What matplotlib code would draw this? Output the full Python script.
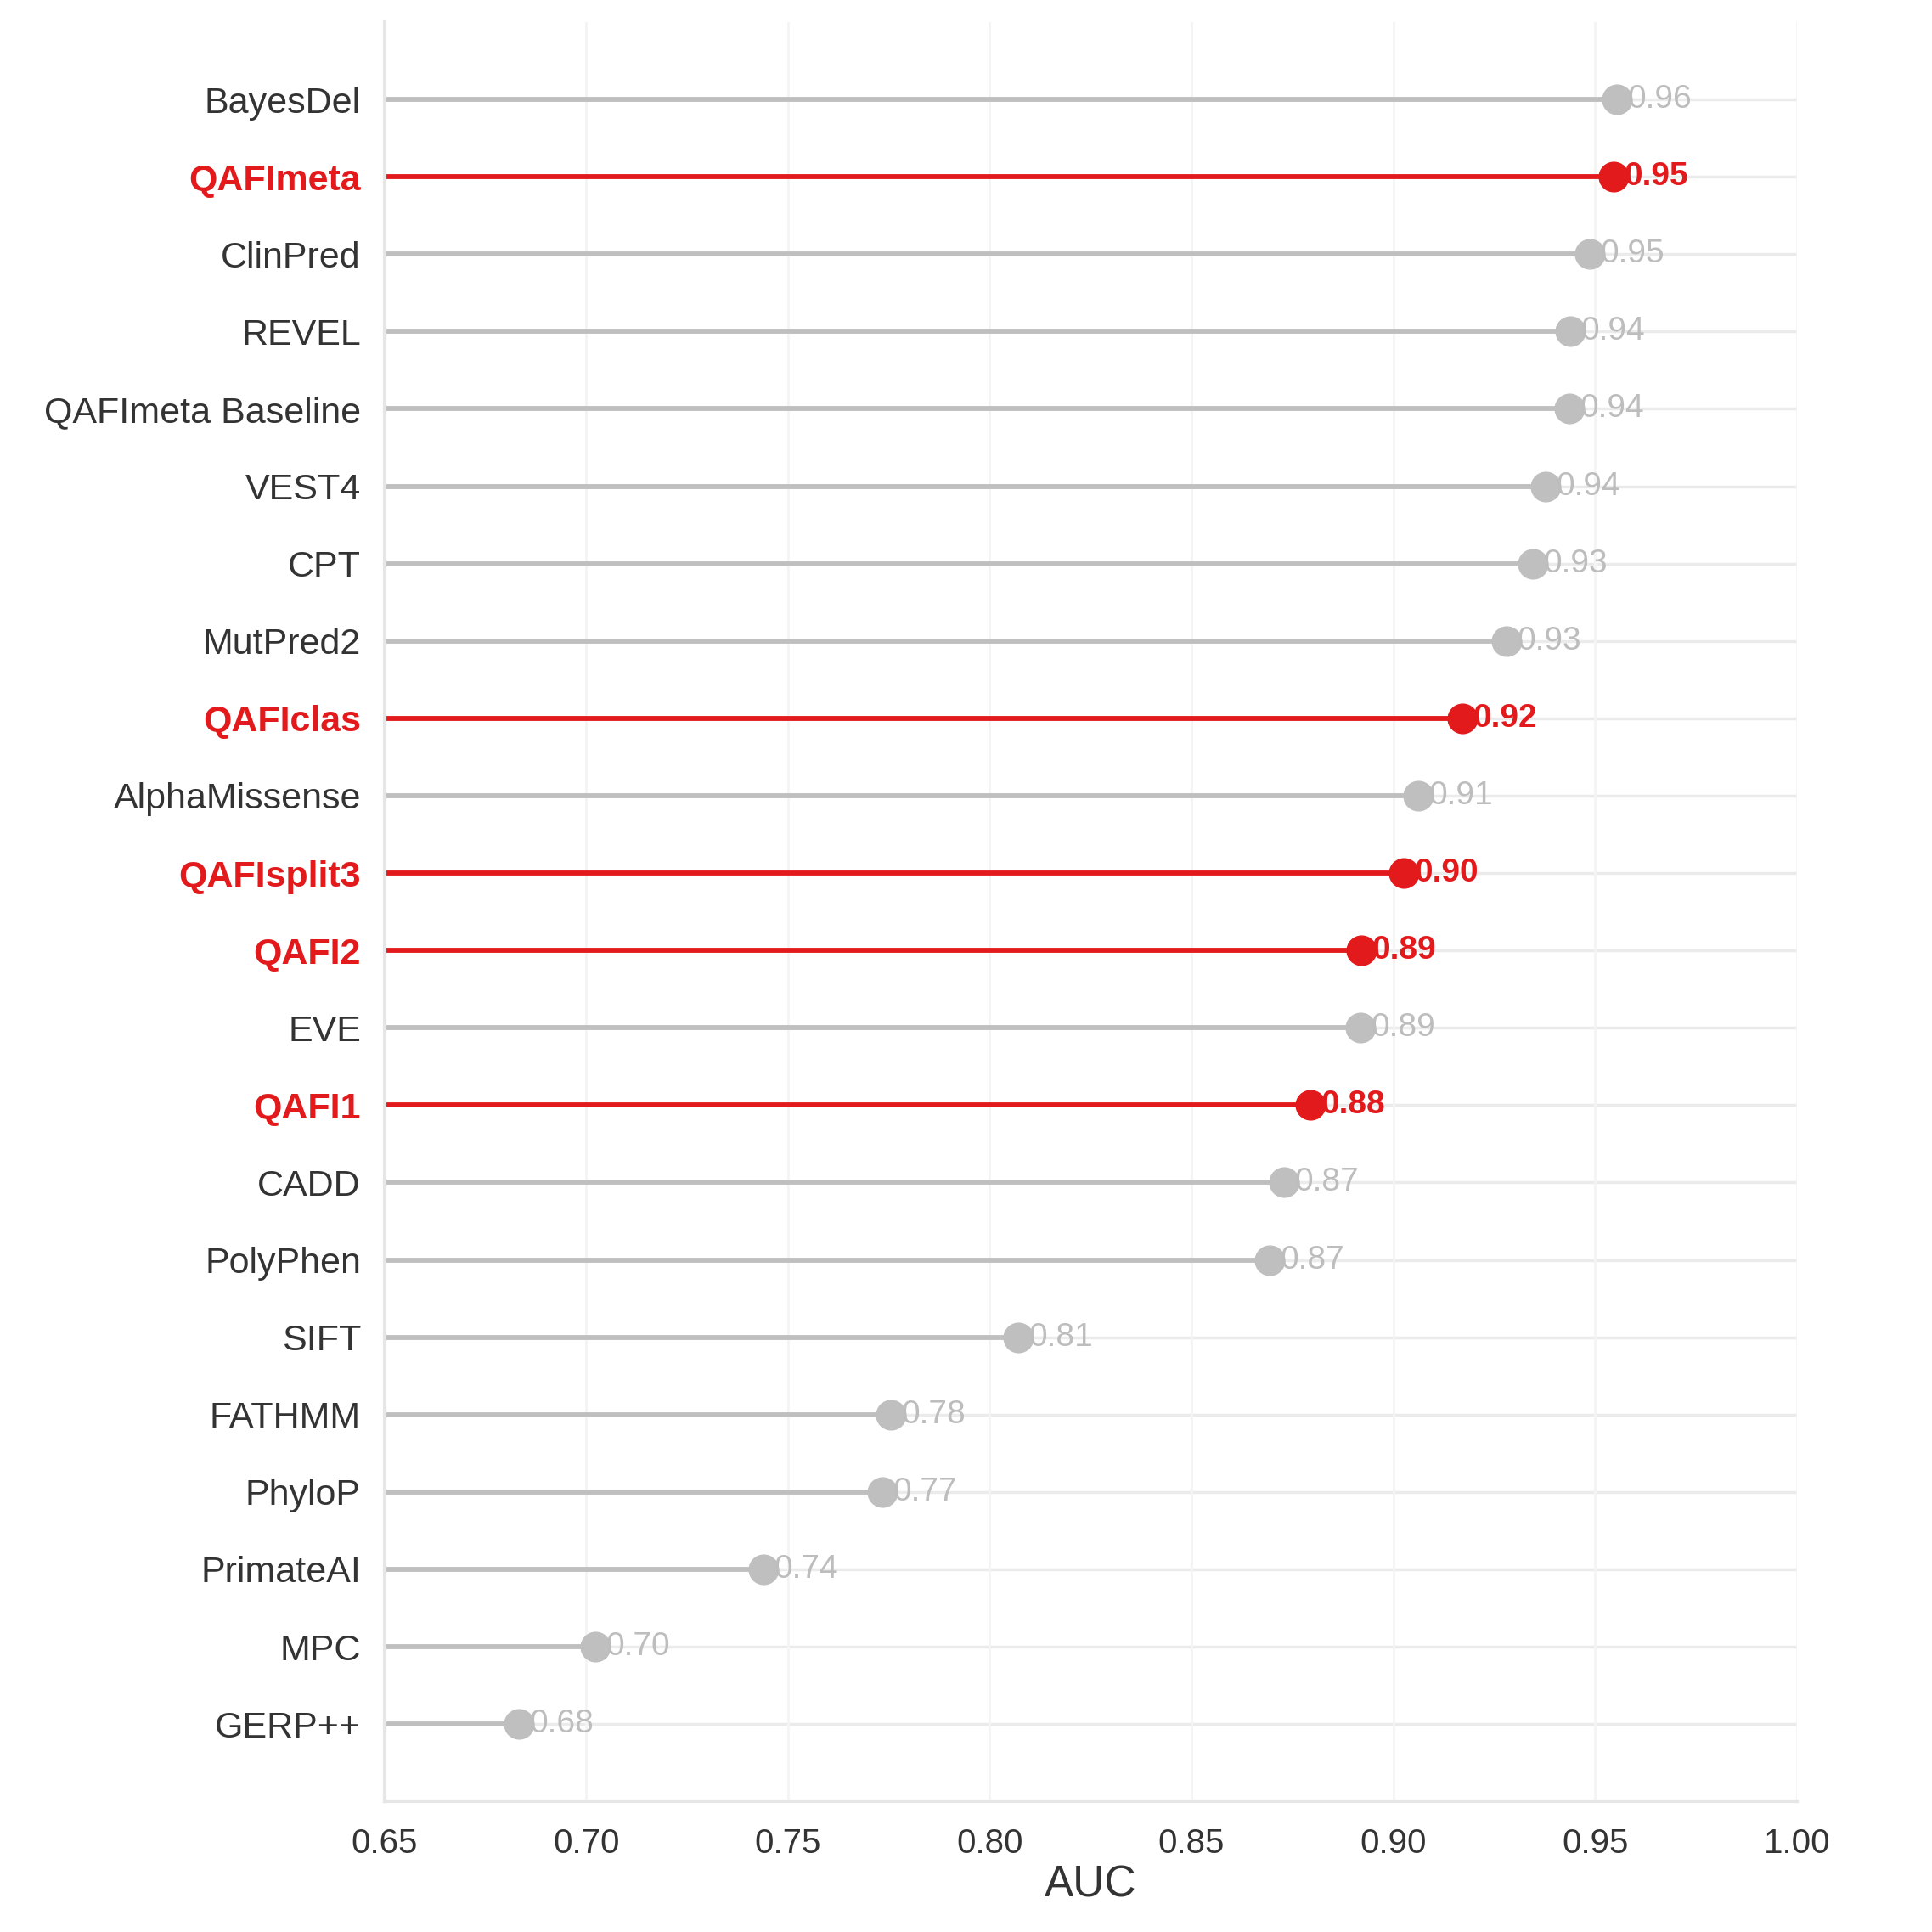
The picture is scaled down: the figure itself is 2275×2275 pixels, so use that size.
import matplotlib
matplotlib.use("Agg")
import matplotlib.pyplot as plt

models = ["BayesDel", "QAFImeta", "ClinPred", "REVEL", "QAFImeta Baseline", "VEST4",
          "CPT", "MutPred2", "QAFIclas", "AlphaMissense", "QAFIsplit3", "QAFI2", "EVE",
          "QAFI1", "CADD", "PolyPhen", "SIFT", "FATHMM", "PhyloP", "PrimateAI", "MPC", "GERP++"]
auc = [0.9555, 0.9545, 0.9487, 0.9438, 0.9436, 0.9377, 0.9347, 0.9280, 0.9172, 0.9062,
       0.9026, 0.8920, 0.8918, 0.8794, 0.8730, 0.8693, 0.8070, 0.7755, 0.7734, 0.7440,
       0.7022, 0.6833]
highlight = ["QAFImeta", "QAFIclas", "QAFIsplit3", "QAFI2", "QAFI1"]
xticks = [0.65, 0.70, 0.75, 0.80, 0.85, 0.90, 0.95, 1.00]

RED = "#e31a1c"
GRAY = "#bfbfbf"
TXTGRAY = "#bdbdbd"

plt.rcParams["font.family"] = ["Liberation Sans", "DejaVu Sans"]

fig = plt.figure(figsize=(22.75, 22.75), dpi=100)
ax = fig.add_axes([0.199, 0.0676, 0.731, 0.921])

x0 = 0.65
for i, (m, v) in enumerate(zip(models, auc)):
    hl = m in highlight
    c = RED if hl else GRAY
    ax.axhline(i, color="#ebebeb", lw=2.5, zorder=0)
    ax.plot([x0, v], [i, i], color=c, lw=4.2, zorder=2, solid_capstyle="butt")
    ax.plot([v], [i], "o", color=c, ms=25, zorder=3, mec=c)
    ax.annotate(f"{v:.2f}", (v, i), xytext=(9, 0), textcoords="offset points",
                ha="left", va="center", fontsize=28,
                color=RED if hl else TXTGRAY, fontweight="bold" if hl else "normal",
                zorder=4)

ax.set_xlim(0.65, 1.0)
ax.set_ylim(22.0, -1.0)
ax.set_yticks(range(len(models)))
ax.set_yticklabels(models, fontsize=31)
for lbl, m in zip(ax.get_yticklabels(), models):
    if m in highlight:
        lbl.set_color(RED)
        lbl.set_fontweight("bold")
    else:
        lbl.set_color("#333333")
ax.set_xticks(xticks)
ax.set_xticklabels([f"{t:.2f}" for t in xticks], fontsize=29, color="#333333")
ax.set_xlabel("AUC", fontsize=37, color="#333333", labelpad=4)
ax.tick_params(axis="y", length=0, pad=20)
ax.tick_params(axis="x", length=0, pad=22)
ax.grid(axis="x", color="#f4f4f4", lw=2)
ax.set_axisbelow(True)
for s in ["top", "right"]:
    ax.spines[s].set_visible(False)
for s in ["left", "bottom"]:
    ax.spines[s].set_color("#e6e6e6")
    ax.spines[s].set_linewidth(3)

fig.savefig("out.png", dpi=100, facecolor="white")
